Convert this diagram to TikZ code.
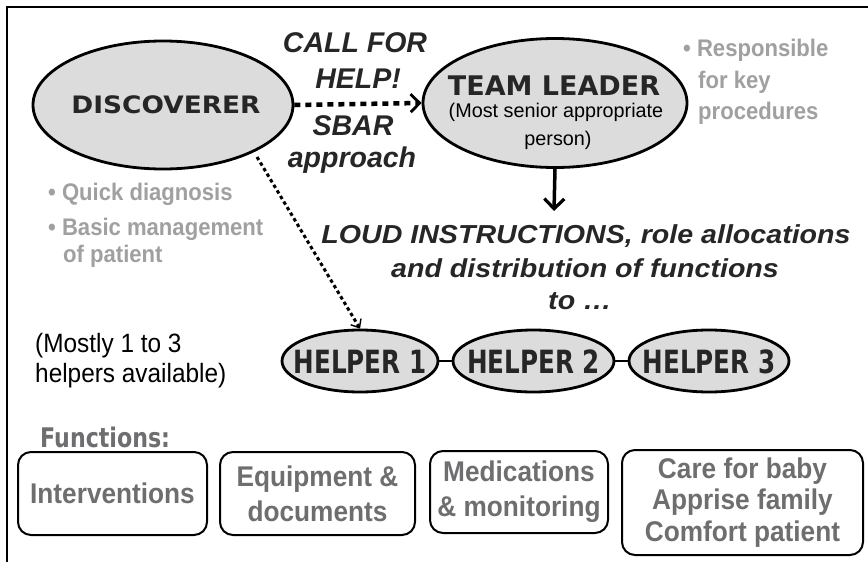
\documentclass[tikz,border=0pt]{standalone}
\usepackage{fontspec}
\setmainfont{Liberation Sans}
\newfontfamily\comicfont{DejaVu Sans}
\newfontfamily\discfont[FakeStretch=1.1]{DejaVu Sans}
\newfontfamily\helperfont[FakeStretch=0.77]{DejaVu Sans}
\newfontfamily\funcfont[FakeStretch=0.82]{DejaVu Sans}
\newfontfamily\graysans[FakeStretch=0.92]{Liberation Sans}
\newfontfamily\loudfont[FakeStretch=1.1]{Liberation Sans}
\usetikzlibrary{shapes.geometric,arrows.meta}
\definecolor{ellfill}{HTML}{DCDCDC}
\definecolor{bulletgray}{HTML}{A0A0A0}
\definecolor{boxgray}{HTML}{6E6E70}
\definecolor{ink}{HTML}{262626}
\tikzset{
  ell/.style={ellipse,draw=black,line width=2.8pt,fill=ellfill,inner sep=0pt},
  txt/.style={inner sep=0pt,anchor=base},
  fbox/.style={draw=black,line width=2pt,rounded corners=13pt,align=center,
     text=boxgray,font=\graysans\bfseries\fontsize{28.5}{35}\selectfont,inner sep=0pt},
  gray/.style={txt,anchor=base west,text=bulletgray,font=\graysans\bfseries\fontsize{24}{28}\selectfont},
  callit/.style={txt,text=ink,font=\bfseries\itshape\fontsize{28.5}{30}\selectfont},
  loudit/.style={txt,text=ink,font=\loudfont\bfseries\itshape\fontsize{26}{30}\selectfont},
  helpertext/.style={txt,text=ink,font=\helperfont\bfseries\fontsize{32}{34}\selectfont},
}
\begin{document}
\begin{tikzpicture}[x=1pt,y=-1pt]
\useasboundingbox (0,0) rectangle (868,562);
\fill[white] (0,0) rectangle (868,562);
\draw[line width=2pt] (868,7) -- (7,7) -- (7,562);

% discoverer and team leader
\node[ell,minimum width=260pt,minimum height=128pt] (disc) at (163,105) {};
\node[txt,text=ink,font=\discfont\bfseries\fontsize{24}{26}\selectfont] (disct) at (166,113) {DISCOVERER};
\node[ell,minimum width=264pt,minimum height=129pt] (lead) at (555,103) {};
\node[txt,text=ink,font=\comicfont\bfseries\fontsize{27}{29}\selectfont] (leadt) at (554,95) {TEAM LEADER};
\node[txt,font=\fontsize{19.8}{22}\selectfont] (leads1) at (556,117) {(Most senior appropriate};
\node[txt,font=\fontsize{19.8}{22}\selectfont] (leads2) at (558,145) {person)};

% call for help
\node[callit] (call1) at (355,52) {CALL FOR};
\node[callit] (call2) at (358,88) {HELP!};
\node[callit] (sbar1) at (353,135) {SBAR};
\node[callit] (sbar2) at (352,167) {approach};
\draw[line width=4.5pt,dash pattern=on 6pt off 5pt,-{Straight Barb[length=9pt,width=18pt,line width=2.8pt]}] (disc.east) -- (lead.west);

% side texts
\node[gray] (resp1) at (683,56) {\textbullet\ Responsible};
\node[gray] (resp2) at (698,88) {for key};
\node[gray] (resp3) at (698,119) {procedures};
\node[gray] (quick1) at (48,200) {\textbullet\ Quick diagnosis};
\node[gray] (quick2) at (48,235) {\textbullet\ Basic management};
\node[gray] (quick3) at (63,262) {of patient};

% down arrow
\coordinate (ltip) at (554,211);
\draw[line width=3.5pt,-{Straight Barb[length=10pt,width=20pt,line width=3.2pt]}] (lead.south) -- (ltip);

\node[loudit] (loud1) at (586,243) {LOUD INSTRUCTIONS, role allocations};
\node[loudit] (loud2) at (585,277) {and distribution of functions};
\node[loudit] (loud3) at (580,309) {to \dots};

% helpers
\node[ell,minimum width=156pt,minimum height=62pt] (h1) at (360,361) {};
\node[ell,minimum width=161pt,minimum height=62pt] (h2) at (533.5,361) {};
\node[ell,minimum width=160pt,minimum height=62pt] (h3) at (709,361) {};
\node[helpertext] (h1t) at (360,373) {HELPER 1};
\node[helpertext] (h2t) at (533.5,373) {HELPER 2};
\node[helpertext] (h3t) at (709,373) {HELPER 3};
\draw[line width=2.4pt] (h1.east) -- (h2.west);
\draw[line width=2.4pt] (h2.east) -- (h3.west);

\coordinate (dstart) at (257,157);
\draw[line width=3pt,dash pattern=on 3.5pt off 3pt,-{Straight Barb[length=7pt,width=12pt,line width=1.4pt]}] (dstart) -- (h1.north);

\node[txt,anchor=base west,font=\graysans\fontsize{26.5}{30}\selectfont] (mostly1) at (35,352) {(Mostly 1 to 3};
\node[txt,anchor=base west,font=\graysans\fontsize{26.5}{30}\selectfont] (mostly2) at (35,382) {helpers available)};

\node[txt,anchor=base west,font=\funcfont\bfseries\fontsize{27}{29}\selectfont,text=boxgray] (func) at (40,447) {Functions:};

% function boxes
\node[fbox,minimum width=189pt,minimum height=83pt] (b1) at (112.5,493.5) {Interventions};
\node[fbox,minimum width=195pt,minimum height=83pt] (b2) at (317.5,493.5) {Equipment \&\\documents};
\node[fbox,minimum width=178pt,minimum height=82pt] (b3) at (519,492) {Medications\\\& monitoring};
\node[fbox,minimum width=241pt,minimum height=105pt,font=\graysans\bfseries\fontsize{28.5}{31.5}\selectfont] (b4) at (742.5,502.5) {Care for baby\\Apprise family\\Comfort patient};
\end{tikzpicture}
\end{document}
